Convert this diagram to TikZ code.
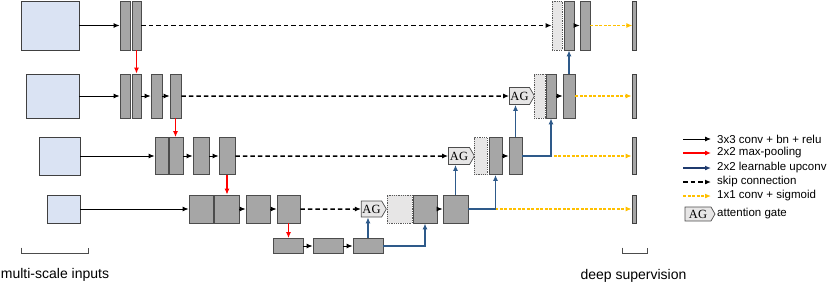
\documentclass[tikz,border=0pt]{standalone}
\usepackage{fontspec}
\setmainfont{Liberation Serif}
\setsansfont{Liberation Sans}
\usepackage{xcolor}
\usetikzlibrary{arrows.meta,shapes.symbols}

\definecolor{blockgray}{HTML}{A6A6A6}
\definecolor{inblue}{HTML}{DAE3F3}
\definecolor{catgray}{HTML}{E7E6E6}
\definecolor{upblue}{HTML}{2E5A8A}
\definecolor{legblue}{HTML}{1F3A6E}
\definecolor{supyellow}{HTML}{FFC000}

\begin{document}
\begin{tikzpicture}[
    x=1pt, y=-1pt,
    >={Latex[length=6pt,width=5pt]},
    wh/.style 2 args={minimum width=#1pt, minimum height=#2pt},
    block/.style={rectangle, draw=black!70, fill=blockgray, line width=0.8pt, inner sep=0pt},
    inbox/.style={rectangle, draw=black!75, fill=inblue, line width=0.8pt, inner sep=0pt},
    catbox/.style={rectangle, draw=black!65, fill=catgray, densely dotted, line width=0.8pt, inner sep=0pt},
    outbar/.style={rectangle, draw=black!75, fill=blockgray, line width=0.7pt, inner sep=0pt},
    gate/.style={signal, signal to=east, signal pointer angle=120, draw=black!70, fill=catgray,
        line width=0.7pt, inner sep=0pt, font=\fontsize{12.5}{12.5}\selectfont},
    conv/.style={->, black, line width=0.9pt},
    pool/.style={->, red, line width=1.1pt},
    upconv/.style={->, upblue, line width=1.4pt},
    skip/.style={->, black, line width=1.5pt, dash pattern=on 4.5pt off 3pt},
    deepsup/.style={->, supyellow, line width=1.4pt, dash pattern=on 3pt off 1.5pt},
    legtext/.style={anchor=west, inner sep=0pt, font=\sffamily\fontsize{11.5}{13}\selectfont},
    lbl/.style={inner sep=0pt, font=\sffamily\fontsize{14}{16}\selectfont}
]
    \useasboundingbox (0,0) rectangle (830,284);

    % multi-scale inputs
    \node[inbox, wh={58}{49}] (in1) at (50,25.5) {};
    \node[inbox, wh={53}{44}] (in2) at (52.5,96) {};
    \node[inbox, wh={41}{38}] (in3) at (59.5,156) {};
    \node[inbox, wh={33}{28}] (in4) at (63.5,209) {};

    % encoder
    \node[block, wh={10}{49}] (e11) at (125,25.5) {};
    \node[block, wh={9}{49}] (e12) at (136.5,25.5) {};

    \node[block, wh={10}{44}] (e21) at (125,96) {};
    \node[block, wh={9}{44}] (e22) at (136.5,96) {};
    \node[block, wh={11}{44}] (e23) at (156.5,96) {};
    \node[block, wh={11}{44}] (e24) at (175.5,96) {};

    \node[block, wh={13}{37}] (e31) at (161.5,156) {};
    \node[block, wh={14}{37}] (e32) at (176,156) {};
    \node[block, wh={16}{37}] (e33) at (201,156) {};
    \node[block, wh={16}{37}] (e34) at (227,156) {};

    \node[block, wh={24}{28}] (e41) at (201,209) {};
    \node[block, wh={25}{28}] (e42) at (226.5,209) {};
    \node[block, wh={24}{28}] (e43) at (258,209) {};
    \node[block, wh={23}{28}] (e44) at (288.5,209) {};

    % bottleneck
    \node[block, wh={30}{15}] (b1) at (288,246) {};
    \node[block, wh={30}{15}] (b2) at (328,246) {};
    \node[block, wh={30}{15}] (b3) at (368,246) {};

    % decoder
    \node[gate, wh={25}{16}] (ag4) at (371.5,209) {AG};
    \node[catbox, wh={25}{28}] (c4) at (399.5,209) {};
    \node[block, wh={24}{28}] (d41) at (425,209) {};
    \node[block, wh={25}{28}] (d42) at (455.5,209) {};

    \node[gate, wh={26}{17}] (ag3) at (459,156) {AG};
    \node[catbox, wh={13}{37}] (c3) at (480.5,156) {};
    \node[block, wh={13}{37}] (d31) at (495.5,156) {};
    \node[block, wh={13}{37}] (d32) at (515.5,156) {};

    \node[gate, wh={25}{17}] (ag2) at (519.5,96) {AG};
    \node[catbox, wh={11}{44}] (c2) at (539.5,96) {};
    \node[block, wh={10}{44}] (d21) at (551,96) {};
    \node[block, wh={12}{44}] (d22) at (569,96) {};

    \node[catbox, wh={10}{49}] (c1) at (557,25.5) {};
    \node[block, wh={10}{49}] (d11) at (569,25.5) {};
    \node[block, wh={10}{49}] (d12) at (585,25.5) {};

    % deep supervision outputs
    \node[outbar, wh={3.5}{49}] (o1) at (634.5,25.5) {};
    \node[outbar, wh={4}{44}] (o2) at (634,96) {};
    \node[outbar, wh={4}{37}] (o3) at (634,156) {};
    \node[outbar, wh={4}{28}] (o4) at (634,209) {};

    % convolutions
    \draw[conv] (in1) -- (e11);
    \draw[conv] (in2) -- (e21);
    \draw[conv] (e22) -- (e23);
    \draw[conv] (e23) -- (e24);
    \draw[conv] (in3) -- (e31);
    \draw[conv] (e32) -- (e33);
    \draw[conv] (e33) -- (e34);
    \draw[conv] (in4) -- (e41);
    \draw[conv] (e42) -- (e43);
    \draw[conv] (e43) -- (e44);
    \draw[conv] (b1) -- (b2);
    \draw[conv] (b2) -- (b3);
    \draw[conv] (d41) -- (d42);
    \draw[conv] (d31) -- (d32);
    \draw[conv] (d21) -- (d22);
    \draw[conv] (d11) -- (d12);

    % max-pooling
    \draw[pool] (e12.south) -- (e12.south |- e22.north);
    \draw[pool] (e24.south) -- (e24.south |- e32.north);
    \draw[pool] (e34.south) -- (e34.south |- e42.north);
    \draw[pool] (e44.south) -- (e44.south |- b1.north);

    % skip connections
    \draw[skip] (e12) -- (c1);
    \draw[skip] (e24) -- (ag2);
    \draw[skip] (e34) -- (ag3);
    \draw[skip] (e44) -- (ag4);

    % deep supervision
    \draw[deepsup] (d42) -- (o4);
    \draw[deepsup] (d32) -- (o3);
    \draw[deepsup] (d22) -- (o2);
    \draw[deepsup] (d12) -- (o1);

    % upconvolutions
    \draw[upconv] (b3.north) -- (b3.north |- ag4.south);
    \draw[upconv] (b3.east) -| (d41.south);
    \draw[upconv] (d42.north) -- (d42.north |- ag3.south);
    \draw[upconv] (d42.east) -| (d31.south);
    \draw[upconv] (d32.north) -- (d32.north |- ag2.south);
    \draw[upconv] (d32.east) -| (d21.south);
    \draw[upconv] (d22.north) -- (d11.south);

    % labels
    \node[lbl] (msin) at (55,275) {multi-scale inputs};
    \node[lbl] (dsup) at (633.5,276) {deep supervision};
    \draw[black!70, line width=0.8pt] (21,247.5) |- (88,253) -- (88,247.5);
    \draw[black!70, line width=0.8pt] (622,247.5) |- (647,253) -- (647,247.5);

    % legend
    \node[legtext] (l1) at (717,139) {3x3 conv + bn + relu};
    \node[legtext] (l2) at (717,153) {2x2 max-pooling};
    \node[legtext] (l3) at (717,168) {2x2 learnable upconv};
    \node[legtext] (l4) at (717,182) {skip connection};
    \node[legtext] (l5) at (717,196) {1x1 conv + sigmoid};
    \node[gate, wh={30}{14}] (l6g) at (698,214) {AG};
    \node[legtext] (l6) at (717,214) {attention gate};

    \draw[conv] ([xshift=-34pt]l1.west) -- ([xshift=-6pt]l1.west);
    \draw[pool] ([xshift=-34pt]l2.west) -- ([xshift=-6pt]l2.west);
    \draw[->, legblue, line width=1.4pt] ([xshift=-34pt]l3.west) -- ([xshift=-6pt]l3.west);
    \draw[skip] ([xshift=-34pt]l4.west) -- ([xshift=-6pt]l4.west);
    \draw[deepsup] ([xshift=-34pt]l5.west) -- ([xshift=-6pt]l5.west);
\end{tikzpicture}
\end{document}
